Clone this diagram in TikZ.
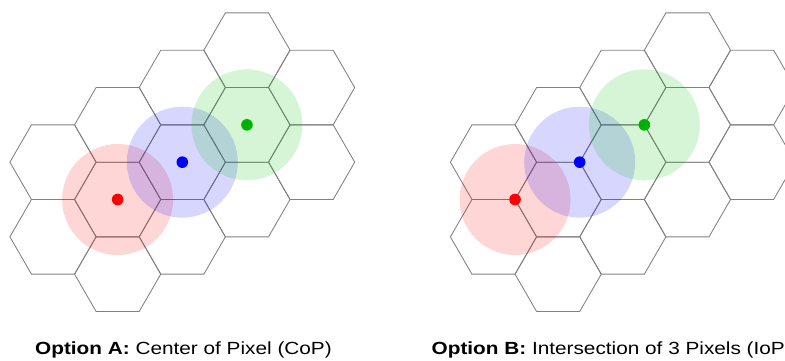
\documentclass[tikz,border=0pt]{standalone}
\usepackage{fontspec}
\setmainfont{Liberation Sans}
\newcommand\widetext[1]{\scalebox{1.18}[1]{#1}}
\begin{document}
\begin{tikzpicture}[x=1pt,y=-1pt,
  hexcell/.style={draw=black!50, line width=0.85pt, line join=miter},
  zone/.style={opacity=0.16},
  caption/.style={anchor=base west, inner sep=0pt, font=\fontsize{17.6}{21}\selectfont}]
\useasboundingbox (0,0) rectangle (785,360);
\begin{scope}
\clip (0,0) rectangle (785,360);
% hexagon grids (flat-top), R = 43.1
\foreach \ox in {0,440.5} {
  \foreach \i/\yy in {-1/162.17, -1/236.83, 0/124.84, 0/199.5, 0/274.16,
                       1/87.51, 1/162.17, 1/236.83, 2/50.18, 2/124.84, 2/199.5,
                       3/87.51, 3/162.17} {
    \draw[hexcell] ({\ox+53+64.65*(\i+1)-43.1},\yy) -- ++(21.55,-37.33) -- ++(43.1,0)
      -- ++(21.55,37.33) -- ++(-21.55,37.33) -- ++(-43.1,0) -- cycle;
  }
}
% Option A points: centres of pixels
\coordinate (ar) at (117.65,199.5);
\coordinate (ab) at (182.3,162.17);
\coordinate (ag) at (246.95,124.84);
% Option B points: intersections of 3 pixels
\coordinate (br) at (515.05,199.5);
\coordinate (bb) at (579.7,162.17);
\coordinate (bg) at (644.35,124.84);
\foreach \p in {a,b} {
  \fill[red, zone] (\p r) circle (55.5);
  \fill[blue, zone] (\p b) circle (55.5);
  \fill[green!75!black, zone] (\p g) circle (55.5);
  \fill[red] (\p r) circle (5.8);
  \fill[blue] (\p b) circle (5.8);
  \fill[green!70!black] (\p g) circle (5.8);
}
\node[caption] (capA) at (35,354) {\widetext{\textbf{Option A:} Center of Pixel (CoP)}};
\node[caption] (capB) at (431.5,354) {\widetext{\textbf{Option B:} Intersection of 3 Pixels (IoP)}};
\end{scope}
\end{tikzpicture}
\end{document}
